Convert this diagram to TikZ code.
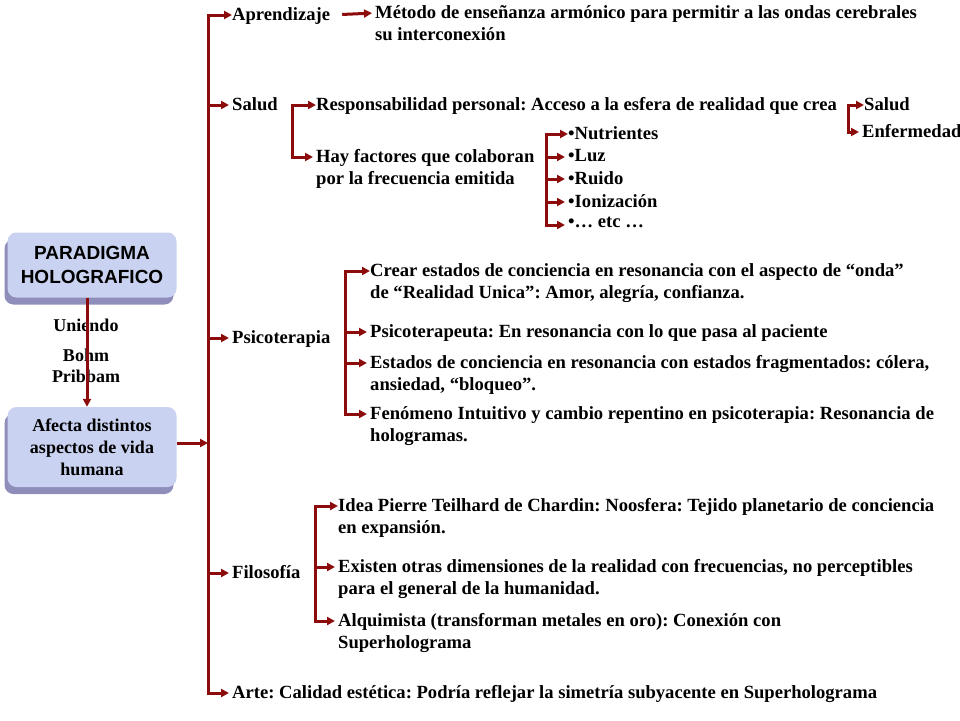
\documentclass[tikz,border=0pt]{standalone}
\usepackage{fontspec}
\setmainfont{Liberation Serif}
\newfontfamily\boxsans{Liberation Sans}
\usepackage{xcolor}
\usetikzlibrary{positioning, arrows.meta, shadows}
\definecolor{cArrow}    {HTML}{8C0B0B}
\definecolor{cBox}      {HTML}{C9D2F0}
\definecolor{cBoxShadow}{HTML}{8F8DB9}
\frenchspacing

\tikzset{
  link/.style={draw=cArrow, line width=3pt},
  arr/.style={link, -{Triangle[length=8pt, width=8pt]}, shorten >=3pt},
  arrtwo/.style={link, {Triangle[length=8pt, width=8pt]}-{Triangle[length=8pt, width=8pt]}, shorten >=3pt, shorten <=3pt},
  txt/.style={font=\fontsize{18.6}{22}\selectfont\bfseries, anchor=north west, inner sep=0pt, align=left},
  mid/.style={font=\fontsize{18}{22}\selectfont\bfseries, inner sep=0pt},
  boxnode/.style={fill=cBox, rounded corners=9pt, minimum width=169pt, align=center,
    drop shadow={shadow xshift=-3pt, shadow yshift=-7pt, fill=cBoxShadow, opacity=1}},
}

\begin{document}
\begin{tikzpicture}[x=1pt, y=-1pt]
  \useasboundingbox (0,0) rectangle (960,720);

  % left boxes
  \node[boxnode, minimum height=65pt, font=\boxsans\fontsize{19}{24}\selectfont\bfseries] (para) at (92,265) {PARADIGMA\\HOLOGRAFICO};
  \node[boxnode, minimum height=80pt, font=\fontsize{18}{22}\selectfont\bfseries] (afecta) at (92,447) {Afecta distintos\\aspectos de vida\\humana};
  \node[mid] (uni)  at (86,325) {Uniendo};
  \node[mid] (bohm) at (86,355) {Bohm};
  \node[mid] (prib) at (86,376) {Pribbam};
  \draw[arr, shorten >=0pt] ([xshift=-5pt]para.south) -- ([xshift=-5pt]afecta.north);

  % branches
  \node[txt] (apr)    at (232,7)   {Aprendizaje};
  \node[txt] (metodo) at (375,5)   {Método de enseñanza armónico para permitir a las ondas cerebrales\\su interconexión};
  \node[txt] (salud)  at (232,97)  {Salud};
  \node[txt] (resp)   at (316,97)  {Responsabilidad personal: Acceso a la esfera de realidad que crea};
  \node[txt] (hay)    at (316,149) {Hay factores que colaboran\\por la frecuencia emitida};
  \node[txt] (sal2)   at (864,97)  {Salud};
  \node[txt] (enf)    at (862,124) {Enfermedad};
  \node[txt] (it1)    at (568,126) {•Nutrientes};
  \node[txt] (it2)    at (568,149) {•Luz};
  \node[txt] (it3)    at (568,171) {•Ruido};
  \node[txt] (it4)    at (568,194) {•Ionización};
  \node[txt] (it5)    at (568,217) {•… etc …};
  \node[txt] (psico)  at (232,330) {Psicoterapia};
  \node[txt] (crear)  at (370,263) {Crear estados de conciencia en resonancia con el aspecto de “onda”\\de “Realidad Unica”: Amor, alegría, confianza.};
  \node[txt] (terap)  at (370,324) {Psicoterapeuta: En resonancia con lo que pasa al paciente};
  \node[txt] (estad)  at (370,355) {Estados de conciencia en resonancia con estados fragmentados: cólera,\\ansiedad, “bloqueo”.};
  \node[txt] (fenom)  at (370,406) {Fenómeno Intuitivo y cambio repentino en psicoterapia: Resonancia de\\hologramas.};
  \node[txt] (filo)   at (232,565) {Filosofía};
  \node[txt] (idea)   at (338,498) {Idea Pierre Teilhard de Chardin: Noosfera: Tejido planetario de conciencia\\en expansión.};
  \node[txt] (exist)  at (338,559) {Existen otras dimensiones de la realidad con frecuencias, no perceptibles\\para el general de la humanidad.};
  \node[txt] (alqui)  at (338,613) {Alquimista (transforman metales en oro): Conexión con\\Superholograma};
  \node[txt] (arte)   at (232,685) {Arte: Calidad estética: Podría reflejar la simetría subyacente en Superholograma};

  % arrow points, level with the first line of each text
  \foreach \n in {apr, metodo, salud, resp, hay, sal2, enf, it1, it2, it3, it4, it5,
                  psico, crear, terap, estad, fenom, filo, idea, exist, alqui, arte}
    \coordinate (\n-a) at ([yshift=-8pt]\n.north west);
  \coordinate (apr-e) at ([yshift=-8pt]apr.north east);
  \coordinate (afecta-e) at ([yshift=4pt]afecta.east);

  % brackets
  \coordinate (spine)   at (208,400);
  \coordinate (bSalud)  at (292,130);
  \coordinate (bItems)  at (546,180);
  \coordinate (bEstado) at (848,118);
  \coordinate (bPsico)  at (345,340);
  \coordinate (bFilo)   at (315,565);

  \draw[arrtwo, shorten <=0pt] (apr-a) -| (spine) |- (arte-a);
  \foreach \n in {salud, psico, filo}
    \draw[arr] (spine |- \n-a) -- (\n-a);
  \draw[arr, shorten >=0pt] (afecta-e) -- (spine |- afecta-e);
  \draw[arr, shorten <=12pt] (apr-e) -- (metodo-a);

  \draw[arrtwo, shorten <=0pt] (resp-a) -| (bSalud) |- (hay-a);
  \draw[arrtwo, shorten <=0pt] (it1-a) -| (bItems) |- (it5-a);
  \foreach \n in {it2, it3, it4}
    \draw[arr] (bItems |- \n-a) -- (\n-a);
  \draw[arrtwo, shorten <=0pt] (sal2-a) -| (bEstado) |- (enf-a);

  \draw[arrtwo, shorten <=0pt] (crear-a) -| (bPsico) |- (fenom-a);
  \foreach \n in {terap, estad}
    \draw[arr] (bPsico |- \n-a) -- (\n-a);

  \draw[arrtwo, shorten <=0pt] (idea-a) -| (bFilo) |- (alqui-a);
  \draw[arr] (bFilo |- exist-a) -- (exist-a);
\end{tikzpicture}
\end{document}
